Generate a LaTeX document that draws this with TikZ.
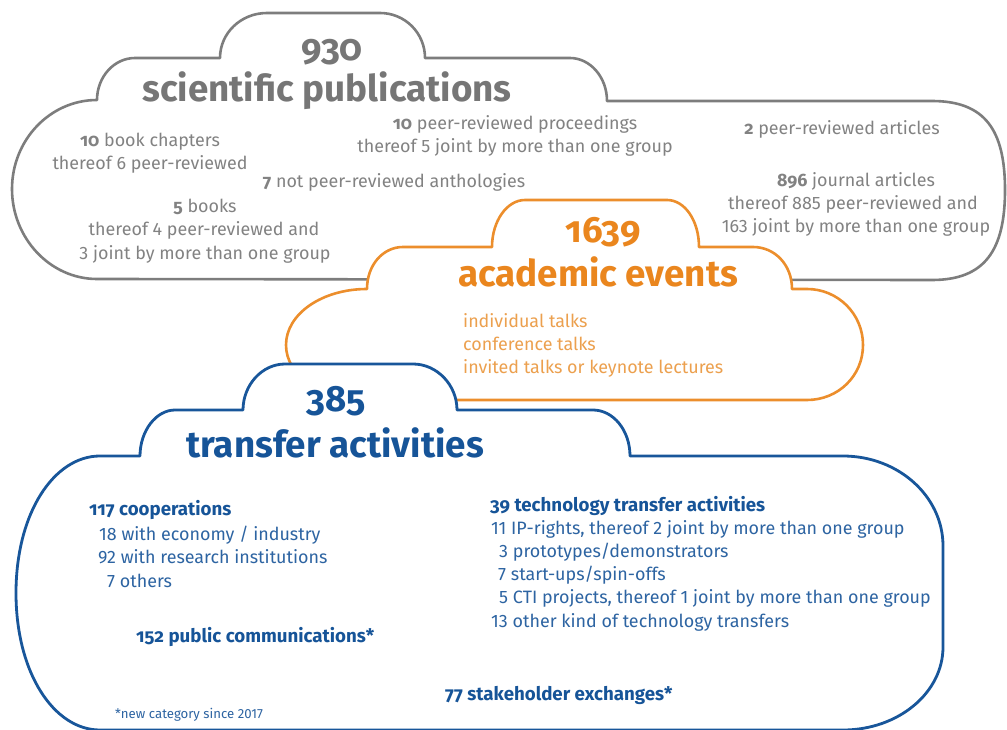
\documentclass[tikz,border=0pt]{standalone}
\usepackage{fontspec}
\setmainfont{Fira Sans}
\newfontfamily\osf[Numbers=OldStyle]{Fira Sans}
\definecolor{gline}{RGB}{125,125,125}
\definecolor{gtitle}{RGB}{118,118,118}
\definecolor{gtext}{RGB}{130,130,130}
\definecolor{oline}{RGB}{236,142,44}
\definecolor{otitle}{RGB}{234,134,30}
\definecolor{otext}{RGB}{236,160,78}
\definecolor{bline}{RGB}{24,86,154}
\definecolor{btitle}{RGB}{22,84,152}
\definecolor{btext}{RGB}{45,100,162}
\newcommand\bn[1]{{\osf\bfseries #1}}
\tikzset{
  cloudshape/.style={line width=2.6pt, fill=white, line join=round},
  bignum/.style={font=\osf\bfseries\fontsize{36.5}{36}\selectfont, inner sep=0pt, anchor=base},
  bigtitle/.style={font=\bfseries\fontsize{36.8}{36}\selectfont, inner sep=0pt, anchor=base},
  body/.style={font=\fontsize{17.9}{23}\selectfont, inner sep=0pt, anchor=base},
  bodyw/.style={body, anchor=base west},
  boldw/.style={font=\osf\bfseries\fontsize{18.7}{23}\selectfont, inner sep=0pt, anchor=base west},
}
\begin{document}
\begin{tikzpicture}[x=1pt,y=-1pt]
\useasboundingbox (0,0) rectangle (1007,730);
% gray cloud
\draw[cloudshape, draw=gline] (97,279) .. controls (50,279) and (12,238) .. (12,189)
  .. controls (12,140) and (50,100) .. (97,100)
  .. controls (97,77) and (114,58) .. (135,58) -- (220,58)
  .. controls (220,33) and (241,13) .. (267,13) -- (380,13)
  .. controls (405,13) and (425,33) .. (425,58) -- (570,58)
  .. controls (590,58) and (607,77) .. (607,101) -- (932,101)
  .. controls (985,101) and (1005,130) .. (1005,190)
  .. controls (1005,250) and (985,280) .. (932,280) -- cycle;
% orange cloud
\draw[cloudshape, draw=oline] (367,289) .. controls (367,265) and (383,247) .. (403,247) -- (492,247)
  .. controls (492,221) and (507,200) .. (525,200) -- (667,200)
  .. controls (685,200) and (699,221) .. (699,247) -- (753,247)
  .. controls (775,247) and (792,265) .. (792,289) -- (807,289)
  .. controls (838,289) and (863,314) .. (863,345)
  .. controls (863,376) and (838,400) .. (807,400) -- (367,400)
  .. controls (322,400) and (286,376) .. (286,345)
  .. controls (286,314) and (322,289) .. (367,289) -- cycle;
% blue cloud
\draw[cloudshape, draw=bline, line width=2.8pt] (100,456) -- (140,456)
  .. controls (140,431) and (156,410) .. (175,410) -- (243,410)
  .. controls (243,385) and (262,364) .. (285,364) -- (413,364)
  .. controls (437,364) and (457,385) .. (457,410) -- (593,410)
  .. controls (613,410) and (630,430) .. (630,456) -- (843,456)
  .. controls (898,456) and (943,496) .. (943,546) -- (943,647)
  .. controls (943,693) and (898,730) .. (843,730) -- (100,730)
  .. controls (54,730) and (16,673) .. (16,593)
  .. controls (16,513) and (54,456) .. (100,456) -- cycle;

% gray texts
\node[bignum, text=gtitle] (n930) at (332,61) {930};
\node[bigtitle, text=gtitle] (tsci) at (327,102) {scientific publications};
\node[body, text=gtext] (g1a) at (150,147) {\bn{10} book chapters};
\node[body, text=gtext] (g1b) at (150,170) {thereof 6 peer-reviewed};
\node[body, text=gtext] (g2a) at (205,213) {\bn{5} books};
\node[body, text=gtext] (g2b) at (204,236) {thereof 4 peer-reviewed and};
\node[body, text=gtext] (g2c) at (205,259) {3 joint by more than one group};
\node[body, text=gtext] (g3) at (394,188) {\bn{7} not peer-reviewed anthologies};
\node[body, text=gtext] (g4a) at (515,130) {\bn{10} peer-reviewed proceedings};
\node[body, text=gtext] (g4b) at (515,153) {thereof 5 joint by more than one group};
\node[body, text=gtext] (g5) at (842,135) {\bn{2} peer-reviewed articles};
\node[body, text=gtext] (g6a) at (856,187) {\bn{896} journal articles};
\node[body, text=gtext] (g6b) at (853,210) {thereof 885 peer-reviewed and};
\node[body, text=gtext] (g6c) at (856,233) {163 joint by more than one group};

% orange texts
\node[bignum, text=otitle] (n1639) at (603,243) {1639};
\node[bigtitle, text=otitle] (tacad) at (598,287) {academic events};
\node[bodyw, text=otext] (o1) at (463,327) {individual talks};
\node[bodyw, text=otext] (o2) at (463,350) {conference talks};
\node[bodyw, text=otext] (o3) at (463,373) {invited talks or keynote lectures};

% blue texts
\node[bignum, text=btitle] (n385) at (336,411) {385};
\node[bigtitle, text=btitle] (ttrans) at (335,457) {transfer activities};
\node[boldw, text=btitle] (b1) at (89,515) {117 cooperations};
\node[bodyw, text=btext] (b1a) at (99,540) {18 with economy / industry};
\node[bodyw, text=btext] (b1b) at (98,563) {92 with research institutions};
\node[bodyw, text=btext] (b1c) at (107,587) {7 others};
\node[boldw, text=btitle] (b2) at (136,642) {152 public communications*};
\node[bodyw, text=btext, font=\fontsize{13.2}{15}\selectfont] (bnote) at (115,718) {*new category since 2017};
\node[boldw, text=btitle] (b3) at (490,511) {39 technology transfer activities};
\node[bodyw, text=btext] (b3a) at (491,534) {11 IP-rights, thereof 2 joint by more than one group};
\node[bodyw, text=btext] (b3b) at (499,557) {3 prototypes/demonstrators};
\node[bodyw, text=btext] (b3c) at (498,580) {7 start-ups/spin-offs};
\node[bodyw, text=btext] (b3d) at (499,603) {5 CTI projects, thereof 1 joint by more than one group};
\node[bodyw, text=btext] (b3e) at (491,627) {13 other kind of technology transfers};
\node[boldw, text=btitle] (b4) at (445,700) {77 stakeholder exchanges*};
\end{tikzpicture}
\end{document}
